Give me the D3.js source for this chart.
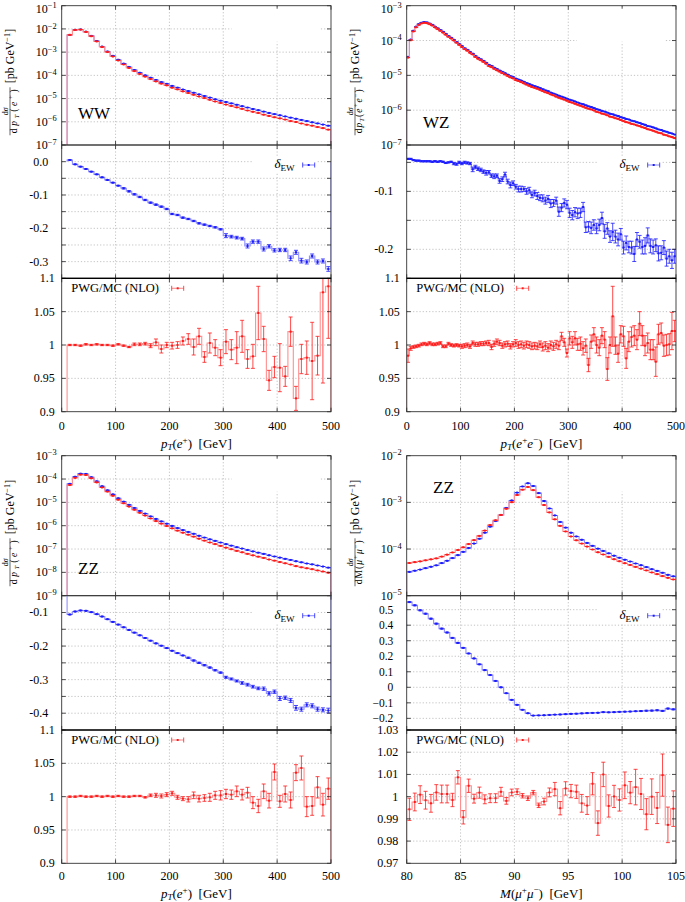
<!DOCTYPE html>
<html><head><meta charset="utf-8">
<script src="https://cdn.jsdelivr.net/npm/d3@7"></script>
<style>
body{margin:0;background:#fff}
.grid{stroke:#b4b4b4;stroke-width:0.8;stroke-dasharray:1.2,2}
</style>
</head><body>
<script>
// ================= DATA =================
const ptTicks = [0, 100, 200, 300, 400, 500];
const mTicks = [80, 85, 90, 95, 100, 105];

// WW, pT(e+) bins 10..500 GeV, width 10
const wwLO = [5.5e-3, 9.1e-3, 9.5e-3, 7.6e-3, 5.0e-3, 3.0e-3, 1.74e-3, 1.07e-3, 6.9e-4, 4.7e-4,
  3.2e-4, 2.3e-4, 1.7e-4, 1.29e-4, 1.0e-4, 7.9e-5, 6.3e-5, 5.1e-5, 4.3e-5, 3.5e-5,
  2.95e-5, 2.45e-5, 2.1e-5, 1.78e-5, 1.51e-5, 1.29e-5, 1.1e-5, 9.3e-6, 8.1e-6, 7.1e-6,
  6.2e-6, 5.4e-6, 4.7e-6, 4.1e-6, 3.55e-6, 3.16e-6, 2.75e-6, 2.4e-6, 2.14e-6, 1.9e-6,
  1.7e-6, 1.51e-6, 1.35e-6, 1.2e-6, 1.07e-6, 9.5e-7, 8.5e-7, 7.6e-7, 6.8e-7];
const wwNLO = [5.53e-3, 9.03e-3, 9.36e-3, 7.43e-3, 4.85e-3, 2.89e-3, 1.66e-3, 1.01e-3, 6.47e-4, 4.36e-4,
  2.94e-4, 2.10e-4, 1.53e-4, 1.15e-4, 8.85e-5, 6.93e-5, 5.49e-5, 4.41e-5, 3.69e-5, 2.95e-5,
  2.48e-5, 2.04e-5, 1.74e-5, 1.46e-5, 1.23e-5, 1.05e-5, 8.88e-6, 7.47e-6, 6.46e-6, 5.52e-6,
  4.81e-6, 4.17e-6, 3.61e-6, 3.06e-6, 2.70e-6, 2.40e-6, 2.03e-6, 1.79e-6, 1.57e-6, 1.40e-6,
  1.25e-6, 1.07e-6, 9.83e-7, 8.44e-7, 7.48e-7, 6.81e-7, 5.94e-7, 5.34e-7, 4.61e-7];
const wwDelta = [0.005, -0.008, -0.015, -0.022, -0.030, -0.038, -0.047, -0.055, -0.063, -0.072,
  -0.080, -0.089, -0.098, -0.106, -0.115, -0.123, -0.129, -0.135, -0.142, -0.157,
  -0.160, -0.168, -0.172, -0.178, -0.185, -0.189, -0.193, -0.197, -0.203, -0.222,
  -0.225, -0.228, -0.231, -0.253, -0.240, -0.240, -0.262, -0.254, -0.266, -0.265,
  -0.265, -0.290, -0.272, -0.297, -0.301, -0.283, -0.301, -0.298, -0.322];
const wwDeltaErr = [0.001, 0.001, 0.001, 0.001, 0.001, 0.001, 0.001, 0.001, 0.001, 0.001,
  0.002, 0.002, 0.002, 0.002, 0.002, 0.002, 0.002, 0.002, 0.002, 0.002,
  0.002, 0.002, 0.002, 0.002, 0.002, 0.002, 0.002, 0.002, 0.002, 0.006,
  0.004, 0.004, 0.004, 0.006, 0.005, 0.005, 0.006, 0.005, 0.005, 0.005,
  0.005, 0.007, 0.006, 0.007, 0.006, 0.006, 0.006, 0.006, 0.007];
const wwRatio = [1.000, 1.000, 0.999, 1.001, 1.000, 1.001, 1.000, 1.000, 0.999, 1.001,
  0.999, 0.997, 1.001, 1.001, 1.002, 0.999, 1.004, 0.994, 1.000, 0.999,
  1.000, 1.006, 1.009, 0.997, 1.013, 0.982, 1.003, 0.996, 0.981, 1.005,
  0.993, 0.996, 1.013, 0.979, 0.983, 1.048, 1.009, 0.947, 0.967, 0.966,
  0.953, 1.020, 0.920, 0.979, 0.981, 0.976, 0.984, 1.079, 1.088];
const wwRatioErr = [0.001, 0.001, 0.001, 0.001, 0.001, 0.001, 0.001, 0.001, 0.001, 0.001,
  0.001, 0.001, 0.002, 0.002, 0.002, 0.003, 0.005, 0.006, 0.004, 0.005,
  0.005, 0.006, 0.008, 0.012, 0.012, 0.008, 0.015, 0.012, 0.012, 0.018,
  0.015, 0.024, 0.024, 0.014, 0.018, 0.040, 0.019, 0.015, 0.016, 0.036,
  0.015, 0.022, 0.018, 0.022, 0.025, 0.058, 0.029, 0.136, 0.078];

// WZ, pT(e+e-) bins 0..500 GeV, width 5
const wzLO = [3.39e-5, 1.07e-4, 1.91e-4, 2.51e-4, 2.95e-4, 3.24e-4, 3.39e-4, 3.31e-4, 3.09e-4, 2.82e-4,
  2.51e-4, 2.24e-4, 2.0e-4, 1.78e-4, 1.55e-4, 1.35e-4, 1.2e-4, 1.05e-4, 9.1e-5, 7.9e-5,
  6.9e-5, 6.0e-5, 5.4e-5, 4.7e-5, 4.2e-5, 3.6e-5, 3.2e-5, 2.9e-5, 2.6e-5, 2.3e-5,
  2.0e-5, 1.86e-5, 1.66e-5, 1.51e-5, 1.38e-5, 1.26e-5, 1.15e-5, 1.05e-5, 9.5e-6, 8.9e-6,
  8.1e-6, 7.6e-6, 7.1e-6, 6.5e-6, 6.0e-6, 5.6e-6, 5.2e-6, 4.9e-6, 4.6e-6, 4.3e-6,
  4.0e-6, 3.7e-6, 3.5e-6, 3.2e-6, 3.0e-6, 2.8e-6, 2.6e-6, 2.45e-6, 2.3e-6, 2.14e-6,
  2.0e-6, 1.9e-6, 1.78e-6, 1.66e-6, 1.55e-6, 1.48e-6, 1.38e-6, 1.29e-6, 1.23e-6, 1.15e-6,
  1.07e-6, 1.02e-6, 9.5e-7, 9.1e-7, 8.5e-7, 7.9e-7, 7.6e-7, 7.1e-7, 6.8e-7, 6.3e-7,
  6.0e-7, 5.6e-7, 5.4e-7, 5.0e-7, 4.8e-7, 4.5e-7, 4.3e-7, 4.0e-7, 3.8e-7, 3.5e-7,
  3.4e-7, 3.2e-7, 3.0e-7, 2.8e-7, 2.7e-7, 2.5e-7, 2.4e-7, 2.24e-7, 2.14e-7, 2.0e-7];
const wzNLO = [3.24e-5, 1.02e-4, 1.82e-4, 2.40e-4, 2.82e-4, 3.09e-4, 3.24e-4, 3.16e-4, 2.95e-4, 2.69e-4,
  2.38e-4, 2.13e-4, 1.9e-4, 1.69e-4, 1.47e-4, 1.28e-4, 1.14e-4, 9.98e-5, 8.65e-5, 7.5e-5,
  6.53e-5, 5.68e-5, 5.11e-5, 4.45e-5, 3.98e-5, 3.37e-5, 3.0e-5, 2.72e-5, 2.44e-5, 2.16e-5,
  1.85e-5, 1.72e-5, 1.54e-5, 1.4e-5, 1.28e-5, 1.16e-5, 1.06e-5, 9.64e-6, 8.72e-6, 8.17e-6,
  7.33e-6, 6.88e-6, 6.43e-6, 5.88e-6, 5.43e-6, 5.01e-6, 4.65e-6, 4.39e-6, 4.12e-6, 3.85e-6,
  3.54e-6, 3.27e-6, 3.10e-6, 2.83e-6, 2.66e-6, 2.45e-6, 2.28e-6, 2.14e-6, 2.01e-6, 1.87e-6,
  1.72e-6, 1.64e-6, 1.53e-6, 1.43e-6, 1.34e-6, 1.26e-6, 1.17e-6, 1.10e-6, 1.05e-6, 9.78e-7,
  8.99e-7, 8.57e-7, 7.98e-7, 7.64e-7, 7.14e-7, 6.54e-7, 6.29e-7, 5.88e-7, 5.63e-7, 5.22e-7,
  4.86e-7, 4.54e-7, 4.37e-7, 4.05e-7, 3.89e-7, 3.65e-7, 3.48e-7, 3.24e-7, 3.08e-7, 2.84e-7,
  2.73e-7, 2.57e-7, 2.41e-7, 2.25e-7, 2.17e-7, 1.98e-7, 1.9e-7, 1.77e-7, 1.69e-7, 1.58e-7];
const wzDelta = [-0.044, -0.044, -0.046, -0.047, -0.047, -0.048, -0.048, -0.048, -0.048, -0.049,
  -0.048, -0.049, -0.048, -0.049, -0.051, -0.050, -0.049, -0.052, -0.053, -0.050,
  -0.052, -0.050, -0.051, -0.052, -0.062, -0.058, -0.061, -0.063, -0.066, -0.068,
  -0.067, -0.073, -0.074, -0.073, -0.082, -0.079, -0.071, -0.083, -0.089, -0.086,
  -0.092, -0.096, -0.096, -0.096, -0.100, -0.098, -0.106, -0.103, -0.108, -0.111,
  -0.112, -0.116, -0.113, -0.121, -0.120, -0.116, -0.135, -0.128, -0.120, -0.123,
  -0.137, -0.141, -0.136, -0.138, -0.137, -0.127, -0.162, -0.161, -0.163, -0.158,
  -0.164, -0.158, -0.146, -0.169, -0.164, -0.178, -0.170, -0.178, -0.183, -0.174,
  -0.197, -0.189, -0.196, -0.197, -0.208, -0.183, -0.187, -0.196, -0.194, -0.176,
  -0.194, -0.196, -0.193, -0.207, -0.206, -0.197, -0.216, -0.212, -0.219, -0.212];
const wzDeltaErr = [0.001, 0.001, 0.001, 0.001, 0.001, 0.001, 0.001, 0.001, 0.001, 0.001,
  0.001, 0.001, 0.001, 0.001, 0.001, 0.001, 0.001, 0.002, 0.002, 0.002,
  0.002, 0.002, 0.002, 0.002, 0.004, 0.003, 0.003, 0.003, 0.003, 0.004,
  0.003, 0.003, 0.004, 0.003, 0.004, 0.004, 0.004, 0.004, 0.005, 0.004,
  0.004, 0.005, 0.005, 0.004, 0.005, 0.005, 0.005, 0.005, 0.006, 0.005,
  0.006, 0.006, 0.006, 0.007, 0.006, 0.006, 0.008, 0.007, 0.007, 0.007,
  0.008, 0.008, 0.008, 0.009, 0.008, 0.008, 0.009, 0.009, 0.010, 0.009,
  0.009, 0.010, 0.010, 0.012, 0.010, 0.010, 0.015, 0.011, 0.011, 0.010,
  0.011, 0.012, 0.010, 0.011, 0.013, 0.012, 0.011, 0.012, 0.014, 0.013,
  0.012, 0.012, 0.011, 0.013, 0.012, 0.012, 0.013, 0.012, 0.014, 0.012];
const wzRatio = [0.984, 0.995, 0.997, 0.998, 0.999, 1.001, 1.002, 1.001, 1.003, 1.001,
  1.001, 1.002, 1.003, 0.998, 0.998, 1.002, 1.000, 0.999, 1.000, 0.999,
  0.998, 0.999, 1.000, 0.998, 1.003, 1.001, 1.001, 1.002, 1.002, 1.003,
  1.003, 0.997, 1.002, 1.005, 1.003, 0.999, 1.001, 1.002, 0.998, 1.001,
  1.003, 1.000, 1.001, 0.999, 1.001, 1.000, 0.998, 0.999, 0.998, 1.001,
  0.997, 0.999, 0.996, 1.000, 0.998, 1.001, 0.999, 1.013, 1.004, 0.988,
  1.010, 1.004, 1.010, 1.001, 1.002, 0.995, 0.999, 0.970, 1.005, 1.016,
  1.000, 0.996, 1.014, 1.008, 0.964, 1.000, 1.043, 0.999, 0.987, 1.016,
  1.013, 0.980, 1.005, 1.012, 1.014, 1.008, 1.032, 1.014, 0.999, 1.003,
  0.993, 0.993, 0.975, 1.016, 1.018, 0.999, 1.000, 1.001, 1.021, 1.021];
const wzRatioErr = [0.010, 0.003, 0.002, 0.002, 0.002, 0.002, 0.002, 0.002, 0.002, 0.002,
  0.002, 0.002, 0.002, 0.002, 0.002, 0.002, 0.002, 0.002, 0.002, 0.002,
  0.003, 0.003, 0.003, 0.003, 0.003, 0.003, 0.003, 0.003, 0.003, 0.003,
  0.004, 0.004, 0.004, 0.004, 0.004, 0.004, 0.004, 0.004, 0.004, 0.004,
  0.005, 0.005, 0.005, 0.005, 0.005, 0.005, 0.005, 0.005, 0.005, 0.005,
  0.006, 0.006, 0.006, 0.006, 0.006, 0.006, 0.006, 0.006, 0.006, 0.006,
  0.010, 0.009, 0.010, 0.009, 0.010, 0.010, 0.010, 0.010, 0.010, 0.010,
  0.012, 0.012, 0.012, 0.012, 0.017, 0.012, 0.045, 0.013, 0.013, 0.013,
  0.015, 0.015, 0.015, 0.015, 0.015, 0.015, 0.018, 0.015, 0.015, 0.015,
  0.015, 0.015, 0.022, 0.015, 0.015, 0.016, 0.016, 0.016, 0.028, 0.016];

// ZZ, pT(e+) bins 10..500 GeV, width 10
const zzLO = [6.2e-5, 1.25e-4, 1.7e-4, 1.65e-4, 1.2e-4, 8.0e-5, 4.9e-5, 3.3e-5, 2.2e-5, 1.5e-5,
  1.07e-5, 7.8e-6, 5.75e-6, 4.3e-6, 3.3e-6, 2.5e-6, 1.95e-6, 1.53e-6, 1.22e-6, 9.8e-7,
  7.9e-7, 6.5e-7, 5.4e-7, 4.5e-7, 3.7e-7, 3.1e-7, 2.6e-7, 2.24e-7, 1.9e-7, 1.62e-7,
  1.4e-7, 1.2e-7, 1.05e-7, 9.1e-8, 7.9e-8, 7.0e-8, 6.2e-8, 5.4e-8, 4.8e-8, 4.3e-8,
  3.8e-8, 3.4e-8, 3.0e-8, 2.7e-8, 2.4e-8, 2.2e-8, 1.97e-8, 1.78e-8, 1.6e-8];
const zzNLO = [5.54e-5, 1.13e-4, 1.54e-4, 1.49e-4, 1.08e-4, 7.16e-5, 4.35e-5, 2.9e-5, 1.92e-5, 1.3e-5,
  9.16e-6, 6.61e-6, 4.83e-6, 3.58e-6, 2.72e-6, 2.04e-6, 1.58e-6, 1.23e-6, 9.69e-7, 7.7e-7,
  6.15e-7, 5.02e-7, 4.13e-7, 3.41e-7, 2.78e-7, 2.3e-7, 1.91e-7, 1.63e-7, 1.37e-7, 1.15e-7,
  9.83e-8, 8.35e-8, 7.25e-8, 6.23e-8, 5.36e-8, 4.72e-8, 4.17e-8, 3.56e-8, 3.19e-8, 2.77e-8,
  2.45e-8, 2.17e-8, 1.85e-8, 1.65e-8, 1.5e-8, 1.37e-8, 1.21e-8, 1.09e-8, 9.7e-9];
const zzDelta = [-0.106, -0.097, -0.094, -0.095, -0.099, -0.105, -0.112, -0.120, -0.128, -0.136,
  -0.144, -0.152, -0.160, -0.168, -0.176, -0.184, -0.192, -0.199, -0.206, -0.214,
  -0.221, -0.228, -0.235, -0.243, -0.250, -0.257, -0.264, -0.272, -0.279, -0.293,
  -0.298, -0.304, -0.310, -0.315, -0.321, -0.326, -0.327, -0.341, -0.336, -0.356,
  -0.354, -0.362, -0.384, -0.388, -0.375, -0.378, -0.388, -0.390, -0.392];
const zzDeltaErr = [0.001, 0.001, 0.001, 0.001, 0.001, 0.001, 0.001, 0.001, 0.001, 0.001,
  0.001, 0.001, 0.001, 0.001, 0.001, 0.001, 0.001, 0.001, 0.001, 0.001,
  0.001, 0.001, 0.002, 0.002, 0.002, 0.002, 0.002, 0.002, 0.002, 0.003,
  0.003, 0.003, 0.004, 0.004, 0.004, 0.004, 0.005, 0.005, 0.005, 0.006,
  0.005, 0.006, 0.007, 0.006, 0.006, 0.006, 0.006, 0.006, 0.007];
const zzRatio = [1.000, 1.000, 1.001, 1.000, 1.000, 1.001, 1.000, 1.001, 1.000, 1.001,
  1.000, 1.000, 1.001, 1.001, 0.999, 1.002, 1.002, 1.001, 1.003, 1.005,
  0.999, 0.997, 0.996, 1.002, 0.997, 0.998, 0.999, 1.002, 1.002, 1.004,
  1.003, 1.008, 1.003, 1.006, 0.991, 0.986, 1.008, 0.994, 1.037, 0.993,
  1.004, 0.995, 1.036, 1.043, 0.985, 0.986, 1.014, 0.988, 1.012];
const zzRatioErr = [0.001, 0.001, 0.001, 0.001, 0.001, 0.001, 0.001, 0.001, 0.001, 0.001,
  0.001, 0.001, 0.001, 0.001, 0.001, 0.002, 0.003, 0.003, 0.003, 0.003,
  0.003, 0.003, 0.004, 0.005, 0.005, 0.005, 0.006, 0.006, 0.007, 0.007,
  0.007, 0.008, 0.008, 0.008, 0.009, 0.010, 0.011, 0.011, 0.012, 0.009,
  0.012, 0.012, 0.012, 0.018, 0.015, 0.014, 0.016, 0.017, 0.016];

// ZZ, M(mu+mu-) bins 80..105 GeV, width 0.5
const zzmLO = [3.24e-5, 3.43e-5, 3.63e-5, 3.89e-5, 4.17e-5, 4.47e-5, 5.0e-5, 5.6e-5, 6.4e-5, 7.4e-5,
  8.7e-5, 1.05e-4, 1.31e-4, 1.66e-4, 2.24e-4, 3.02e-4, 3.98e-4, 5.37e-4, 7.59e-4, 1.10e-3,
  1.62e-3, 2.19e-3, 2.57e-3, 2.24e-3, 1.58e-3, 1.07e-3, 7.41e-4, 5.25e-4, 3.8e-4, 2.88e-4,
  2.24e-4, 1.86e-4, 1.58e-4, 1.35e-4, 1.17e-4, 1.02e-4, 9.1e-5, 8.1e-5, 7.2e-5, 6.5e-5,
  5.9e-5, 5.4e-5, 4.9e-5, 4.5e-5, 4.1e-5, 3.7e-5, 3.4e-5, 3.1e-5, 2.8e-5, 2.6e-5];
const zzmNLO = [5.02e-5, 5.24e-5, 5.43e-5, 5.73e-5, 6.01e-5, 6.30e-5, 6.89e-5, 7.58e-5, 8.44e-5, 9.52e-5,
  1.09e-4, 1.28e-4, 1.55e-4, 1.91e-4, 2.49e-4, 3.26e-4, 4.14e-4, 5.37e-4, 7.30e-4, 1.01e-3,
  1.44e-3, 1.87e-3, 2.14e-3, 1.83e-3, 1.29e-3, 8.77e-4, 6.09e-4, 4.33e-4, 3.14e-4, 2.38e-4,
  1.86e-4, 1.54e-4, 1.31e-4, 1.13e-4, 9.77e-5, 8.53e-5, 7.64e-5, 6.80e-5, 6.05e-5, 5.47e-5,
  4.97e-5, 4.56e-5, 4.15e-5, 3.81e-5, 3.48e-5, 3.15e-5, 2.90e-5, 2.63e-5, 2.42e-5, 2.23e-5];
const zzmDelta = [0.549, 0.528, 0.496, 0.474, 0.442, 0.410, 0.378, 0.353, 0.318, 0.286,
  0.254, 0.218, 0.186, 0.148, 0.111, 0.079, 0.041, 0.000, -0.038, -0.081,
  -0.113, -0.145, -0.167, -0.182, -0.181, -0.180, -0.178, -0.176, -0.175, -0.173,
  -0.171, -0.170, -0.168, -0.166, -0.165, -0.164, -0.160, -0.161, -0.160, -0.158,
  -0.157, -0.156, -0.154, -0.153, -0.151, -0.150, -0.148, -0.152, -0.137, -0.142];
const zzmDeltaErr = [0.003, 0.003, 0.003, 0.003, 0.003, 0.003, 0.003, 0.003, 0.003, 0.003,
  0.002, 0.002, 0.002, 0.002, 0.002, 0.002, 0.002, 0.002, 0.001, 0.001,
  0.001, 0.001, 0.001, 0.001, 0.001, 0.001, 0.001, 0.001, 0.002, 0.002,
  0.002, 0.002, 0.002, 0.002, 0.002, 0.002, 0.002, 0.002, 0.002, 0.002,
  0.002, 0.002, 0.002, 0.003, 0.003, 0.003, 0.003, 0.003, 0.003, 0.003];
const zzmRatio = [0.9943, 0.9976, 1.0009, 0.9984, 0.9970, 1.0019, 1.0012, 1.0012, 0.9985, 1.0087,
  0.9907, 1.0049, 0.9991, 1.0018, 0.9988, 0.9993, 0.9993, 1.0022, 0.9981, 1.0019,
  1.0022, 1.0004, 0.9993, 1.0018, 0.9961, 0.9978, 1.0019, 1.0034, 0.9948, 1.0037,
  1.0025, 1.0022, 0.9970, 0.9960, 1.0058, 0.9881, 1.0100, 0.9958, 1.0001, 0.9985,
  1.0051, 1.0018, 1.0043, 1.0012, 0.9921, 1.0000, 0.9949, 1.0097, 0.9873, 0.9946];
const zzmRatioErr = [0.005, 0.004, 0.004, 0.004, 0.004, 0.0035, 0.004, 0.004, 0.003, 0.003,
  0.003, 0.003, 0.002, 0.0025, 0.002, 0.002, 0.002, 0.002, 0.0015, 0.0015,
  0.0013, 0.001, 0.001, 0.001, 0.001, 0.0015, 0.002, 0.003, 0.003, 0.003,
  0.003, 0.003, 0.004, 0.004, 0.005, 0.0055, 0.0055, 0.005, 0.005, 0.005,
  0.006, 0.005, 0.008, 0.007, 0.007, 0.008, 0.007, 0.0095, 0.008, 0.008];

// ================= DRAWING =================
const SERIF = "'Liberation Serif','Times New Roman',serif";
const BLUE = '#1a1aff', BLUE_L = '#8f8fff', RED = '#ff1a1a', RED_L = '#ff8f8f';
const svg = d3.select('body').append('svg').attr('width', 685).attr('height', 902)
  .style('font-family', SERIF);
let clipN = 0;

function rich(sel, parts, base) {
  let cur = 0;
  parts.forEach(p => {
    const txt = p[0], kind = p[1] || '';
    const ts = sel.append('tspan').text(txt);
    let target = 0, fs = base;
    if (kind.includes('sup')) { target = -base * 0.36; fs = base * 0.7; }
    if (kind.includes('sub')) { target = base * 0.22; fs = base * 0.7; }
    if (kind.includes('it')) ts.attr('font-style', 'italic');
    ts.attr('font-size', fs).attr('dy', target - cur);
    cur = target;
  });
}

function drawSeries(g, s, xs, ys, p) {
  const e = s.edges, v = s.vals;
  const clamp = y => (isFinite(y) ? Math.max(p.y0 - 6, Math.min(p.y1 + 6, y)) : p.y1 + 6);
  const base = clamp(p.log ? NaN : ys(0));
  let d = `M${xs(e[0])},${base}`;
  v.forEach((val, i) => { d += `L${xs(e[i])},${clamp(ys(val))}L${xs(e[i + 1])},${clamp(ys(val))}`; });
  d += `L${xs(e[e.length - 1])},${base}`;
  g.append('path').attr('d', d).attr('fill', 'none').attr('stroke', s.light).attr('stroke-width', 1.1);
  const pg = g.append('g').attr('stroke', s.dark).attr('stroke-width', 0.8);
  v.forEach((val, i) => {
    const cx = xs((e[i] + e[i + 1]) / 2);
    const err = s.errs ? s.errs[i] : 0;
    const ya = clamp(ys(val - err)), yb = clamp(ys(val + err)), yc = ys(val);
    if (Math.abs(ya - yb) > 0.3) pg.append('line').attr('x1', cx).attr('x2', cx).attr('y1', ya).attr('y2', yb);
    pg.append('line').attr('x1', cx - 2).attr('x2', cx + 2).attr('y1', ya).attr('y2', ya);
    pg.append('line').attr('x1', cx - 2).attr('x2', cx + 2).attr('y1', yb).attr('y2', yb);
    g.append('rect').attr('x', cx - 1).attr('y', yc - 1).attr('width', 2).attr('height', 2).attr('fill', s.dark);
  });
}

function legendSample(g, x, y, light, dark) {
  g.append('line').attr('x1', x).attr('x2', x + 12).attr('y1', y).attr('y2', y).attr('stroke', light).attr('stroke-width', 1.1);
  [x, x + 12].forEach(xx => g.append('line').attr('x1', xx).attr('x2', xx).attr('y1', y - 2.5).attr('y2', y + 2.5).attr('stroke', dark).attr('stroke-width', 0.8));
  g.append('rect').attr('x', x + 5).attr('y', y - 1).attr('width', 2).attr('height', 2).attr('fill', dark);
}

function drawSub(p) {
  const { x0, x1, y0, y1, xs, ys } = p;
  const g = svg.append('g');
  const clipId = 'clip' + (clipN++);
  svg.append('clipPath').attr('id', clipId).append('rect')
    .attr('x', x0).attr('y', y0).attr('width', x1 - x0).attr('height', y1 - y0);
  p.xTicks.forEach(v => {
    const x = xs(v);
    if (x > x0 + 0.5 && x < x1 - 0.5) g.append('line').attr('class', 'grid').attr('x1', x).attr('x2', x).attr('y1', y0).attr('y2', y1);
  });
  p.yGrid.forEach(v => {
    const y = ys(v);
    if (y > y0 + 0.5 && y < y1 - 0.5) g.append('line').attr('class', 'grid').attr('x1', x0).attr('x2', x1).attr('y1', y).attr('y2', y);
  });
  const dg = g.append('g').attr('clip-path', `url(#${clipId})`);
  p.series.forEach(s => drawSeries(dg, s, xs, ys, p));
  const tg = g.append('g').attr('stroke', '#222').attr('stroke-width', 0.8);
  p.yGrid.forEach(v => {
    const y = ys(v);
    if (y < y0 - 0.5 || y > y1 + 0.5) return;
    tg.append('line').attr('x1', x0).attr('x2', x0 + 4).attr('y1', y).attr('y2', y);
    tg.append('line').attr('x1', x1).attr('x2', x1 - 4).attr('y1', y).attr('y2', y);
  });
  p.xTicks.forEach(v => {
    const x = xs(v);
    tg.append('line').attr('x1', x).attr('x2', x).attr('y1', y1).attr('y2', y1 - 4);
    tg.append('line').attr('x1', x).attr('x2', x).attr('y1', y0).attr('y2', y0 + 4);
  });
  g.append('rect').attr('x', x0).attr('y', y0).attr('width', x1 - x0).attr('height', y1 - y0)
    .attr('fill', 'none').attr('stroke', '#333').attr('stroke-width', 0.9);
  if (p.strongTop) g.append('line').attr('x1', x0).attr('x2', x1).attr('y1', y0).attr('y2', y0)
    .attr('stroke', '#000').attr('stroke-width', 1.2);
  p.yLabels.forEach(([v, t]) => {
    const ty = p.log ? Math.max(ys(v) + 4, 12.5) : ys(v) + 4;
    const tx = g.append('text').attr('x', x0 - p.labelOff).attr('y', ty)
      .attr('text-anchor', 'end').attr('font-size', p.labelSize || 12);
    if (p.log) rich(tx, [['10'], [t, 'sup']], 12); else tx.text(t);
  });
  return g;
}

const COLS = [{ x0: 61.7, x1: 331 }, { x0: 406.7, x1: 676 }];
const ROWS = [
  { main: [5.7, 145], delta: [145, 278.3], ratio: [278.3, 411.7], tickY: 429.5, titleY: 447.5, yc: 82 },
  { main: [455.7, 595.7], delta: [595.7, 730], ratio: [730, 863.3], tickY: 879.5, titleY: 897.5, yc: 533 }
];

function logLabels(lo, hi) {
  const out = [];
  for (let k = lo; k <= hi; k++) out.push([Math.pow(10, k), '\u2212' + (-k)]);
  return out;
}

const panels = [
  {
    col: 0, row: 0, edges: d3.range(10, 500.001, 10), xDomain: [0, 500], xTicks: ptTicks,
    lo: wwLO, nlo: wwNLO, mainExp: [-7, -1],
    delta: wwDelta, deltaErr: wwDeltaErr, deltaDomain: [-0.35, 0.05],
    deltaGrid: [0, -0.05, -0.1, -0.15, -0.2, -0.25, -0.3],
    deltaLabels: [[0, '0.0'], [-0.1, '-0.1'], [-0.2, '-0.2'], [-0.3, '-0.3']],
    ratio: wwRatio, ratioErr: wwRatioErr, ratioDomain: [0.9, 1.1],
    ratioGrid: [1.1, 1.05, 1, 0.95, 0.9],
    ratioLabels: [[1.1, '1.1'], [1.05, '1.05'], [1, '1'], [0.95, '0.95'], [0.9, '0.9']],
    name: 'WW', namePos: [78, 119],
    denom: [['d'], ['p', 'it'], ['T', 'sub it'], ['('], ['e', 'it'], ['+', 'sup'], [')']],
    xTitle: [['p', 'it'], ['T', 'sub it'], ['('], ['e', 'it'], ['+', 'sup'], [')  [GeV]']]
  },
  {
    col: 1, row: 0, edges: d3.range(0, 500.001, 5), xDomain: [0, 500], xTicks: ptTicks,
    lo: wzLO, nlo: wzNLO, mainExp: [-7, -3],
    delta: wzDelta, deltaErr: wzDeltaErr, deltaDomain: [-0.25, -0.02],
    deltaGrid: [-0.05, -0.1, -0.15, -0.2],
    deltaLabels: [[-0.1, '-0.1'], [-0.2, '-0.2']],
    ratio: wzRatio, ratioErr: wzRatioErr, ratioDomain: [0.9, 1.1],
    ratioGrid: [1.1, 1.05, 1, 0.95, 0.9],
    ratioLabels: [[1.1, '1.1'], [1.05, '1.05'], [1, '1'], [0.95, '0.95'], [0.9, '0.9']],
    name: 'WZ', namePos: [423, 128],
    denom: [['d'], ['p', 'it'], ['T', 'sub it'], ['('], ['e', 'it'], ['+', 'sup'], ['e', 'it'], ['\u2212', 'sup'], [')']],
    xTitle: [['p', 'it'], ['T', 'sub it'], ['('], ['e', 'it'], ['+', 'sup'], ['e', 'it'], ['\u2212', 'sup'], [')  [GeV]']]
  },
  {
    col: 0, row: 1, edges: d3.range(10, 500.001, 10), xDomain: [0, 500], xTicks: ptTicks,
    lo: zzLO, nlo: zzNLO, mainExp: [-9, -3],
    delta: zzDelta, deltaErr: zzDeltaErr, deltaDomain: [-0.45, -0.05],
    deltaGrid: [-0.1, -0.15, -0.2, -0.25, -0.3, -0.35, -0.4],
    deltaLabels: [[-0.1, '-0.1'], [-0.2, '-0.2'], [-0.3, '-0.3'], [-0.4, '-0.4']],
    ratio: zzRatio, ratioErr: zzRatioErr, ratioDomain: [0.9, 1.1],
    ratioGrid: [1.1, 1.05, 1, 0.95, 0.9],
    ratioLabels: [[1.1, '1.1'], [1.05, '1.05'], [1, '1'], [0.95, '0.95'], [0.9, '0.9']],
    name: 'ZZ', namePos: [78, 574],
    denom: [['d'], ['p', 'it'], ['T', 'sub it'], ['('], ['e', 'it'], ['+', 'sup'], [')']],
    xTitle: [['p', 'it'], ['T', 'sub it'], ['('], ['e', 'it'], ['+', 'sup'], [')  [GeV]']]
  },
  {
    col: 1, row: 1, edges: d3.range(80, 105.001, 0.5), xDomain: [80, 105], xTicks: mTicks,
    lo: zzmLO, nlo: zzmNLO, mainExp: [-5, -2],
    delta: zzmDelta, deltaErr: zzmDeltaErr, deltaDomain: [-0.275, 0.59],
    deltaGrid: [0.5, 0.4, 0.3, 0.2, 0.1, 0, -0.1, -0.2],
    deltaLabels: [[0.5, '0.5'], [0.4, '0.4'], [0.3, '0.3'], [0.2, '0.2'], [0.1, '0.1'], [0, '0'], [-0.1, '\u22120.1'], [-0.2, '\u22120.2']],
    deltaLabelSize: 11.5,
    ratio: zzmRatio, ratioErr: zzmRatioErr, ratioDomain: [0.97, 1.03],
    ratioGrid: [1.03, 1.02, 1.01, 1, 0.99, 0.98, 0.97],
    ratioLabels: [[1.03, '1.03'], [1.02, '1.02'], [1.01, '1.01'], [1, '1'], [0.99, '0.99'], [0.98, '0.98'], [0.97, '0.97']],
    ratioLabelOff: 8.4,
    name: 'ZZ', namePos: [433, 493],
    denom: [['dM', ''], ['('], ['\u03bc', 'it'], ['+', 'sup'], ['\u03bc', 'it'], ['\u2212', 'sup'], [')']],
    xTitle: [['M', 'it'], ['('], ['\u03bc', 'it'], ['+', 'sup'], ['\u03bc', 'it'], ['\u2212', 'sup'], [')  [GeV]']]
  }
];

function yTitle(cx, cy, denomParts) {
  const g = svg.append('g').attr('transform', `translate(${cx},${cy}) rotate(-90)`);
  const num = g.append('text').attr('text-anchor', 'middle').attr('y', -1.6);
  rich(num, [['d'], ['\u03c3', 'it']], 8);
  const den = g.append('text').attr('text-anchor', 'middle').attr('y', 6.8);
  rich(den, denomParts, 9.5);
  const fw = 48;
  den.attr('textLength', fw - 4).attr('lengthAdjust', 'spacing');
  const br = g.append('text').attr('y', 4.2);
  rich(br, [['[pb GeV'], ['\u22121', 'sup'], [']']], 12);
  const bw = br.node().getComputedTextLength();
  const total = fw + 4 + bw;
  const fc = -total / 2 + fw / 2;
  num.attr('x', fc); den.attr('x', fc);
  g.append('line').attr('x1', fc - fw / 2).attr('x2', fc + fw / 2).attr('y1', 0).attr('y2', 0)
    .attr('stroke', '#000').attr('stroke-width', 0.6);
  br.attr('x', -total / 2 + fw + 4);
}

function opaqueBox(x, y, w, h) {
  svg.append('rect').attr('x', x).attr('y', y).attr('width', w).attr('height', h).attr('fill', '#fff');
}

panels.forEach(P => {
  const C = COLS[P.col], R = ROWS[P.row];
  const xs = d3.scaleLinear().domain(P.xDomain).range([C.x0, C.x1]);
  // main panel
  const ysMain = d3.scaleLog().domain([Math.pow(10, P.mainExp[0]), Math.pow(10, P.mainExp[1])]).range([R.main[1], R.main[0]]);
  const decades = d3.range(P.mainExp[0], P.mainExp[1] + 1).map(k => Math.pow(10, k));
  drawSub({
    x0: C.x0, x1: C.x1, y0: R.main[0], y1: R.main[1], xs, ys: ysMain, log: true,
    xTicks: P.xTicks, yGrid: decades, yLabels: logLabels(P.mainExp[0], P.mainExp[1]), labelOff: 5,
    series: [
      { edges: P.edges, vals: P.lo, light: BLUE_L, dark: BLUE },
      { edges: P.edges, vals: P.nlo, light: RED_L, dark: RED }
    ]
  });
  const lg = svg.append('g');
  opaqueBox(C.x0 + 170, R.main[0] + 3, 88, 33);
  lg.append('text').attr('x', C.x0 + 231).attr('y', R.main[0] + 14.3).attr('text-anchor', 'end').attr('font-size', 12).text('LO');
  legendSample(lg, C.x0 + 241, R.main[0] + 10.3, BLUE_L, BLUE);
  lg.append('text').attr('x', C.x0 + 231).attr('y', R.main[0] + 29).attr('text-anchor', 'end').attr('font-size', 12).text('NLO EW');
  legendSample(lg, C.x0 + 241, R.main[0] + 25, RED_L, RED);
  svg.append('text').attr('x', P.namePos[0]).attr('y', P.namePos[1]).attr('font-size', 17).text(P.name);
  yTitle(C.x0 - 51.7, R.yc, P.denom);

  // delta panel
  const ysD = d3.scaleLinear().domain(P.deltaDomain).range([R.delta[1], R.delta[0]]);
  drawSub({
    x0: C.x0, x1: C.x1, y0: R.delta[0], y1: R.delta[1], xs, ys: ysD, log: false,
    xTicks: P.xTicks, yGrid: P.deltaGrid, yLabels: P.deltaLabels, labelOff: 13.4, labelSize: P.deltaLabelSize,
    series: [{ edges: P.edges, vals: P.delta, errs: P.deltaErr, light: BLUE_L, dark: BLUE }]
  });
  opaqueBox(C.x0 + 191, R.delta[0] + 11, 64, 17);
  const dl = svg.append('text').attr('x', C.x0 + 233).attr('y', R.delta[0] + 23).attr('text-anchor', 'end');
  rich(dl, [['\u03b4', 'it'], ['EW', 'sub']], 13);
  legendSample(svg.append('g'), C.x0 + 241, R.delta[0] + 20, BLUE_L, BLUE);

  // ratio panel
  const ysR = d3.scaleLinear().domain(P.ratioDomain).range([R.ratio[1], R.ratio[0]]);
  drawSub({
    x0: C.x0, x1: C.x1, y0: R.ratio[0], y1: R.ratio[1], xs, ys: ysR, log: false, strongTop: true,
    xTicks: P.xTicks, yGrid: P.ratioGrid, yLabels: P.ratioLabels, labelOff: P.ratioLabelOff || 7,
    series: [{ edges: P.edges, vals: P.ratio, errs: P.ratioErr, light: RED_L, dark: RED }]
  });
  svg.append('text').attr('x', C.x0 + 9.5).attr('y', R.ratio[0] + 14).attr('font-size', 12.5).text('PWG/MC (NLO)');
  legendSample(svg.append('g'), C.x0 + 110, R.ratio[0] + 10, RED_L, RED);

  // x tick labels + title
  P.xTicks.forEach(v => svg.append('text').attr('x', xs(v)).attr('y', R.tickY).attr('text-anchor', 'middle').attr('font-size', 12).text(String(v)));
  const xt = svg.append('text').attr('x', (C.x0 + C.x1) / 2).attr('y', R.titleY).attr('text-anchor', 'middle')
    .style('white-space', 'pre');
  rich(xt, P.xTitle, 13);
});
</script>
</body></html>
